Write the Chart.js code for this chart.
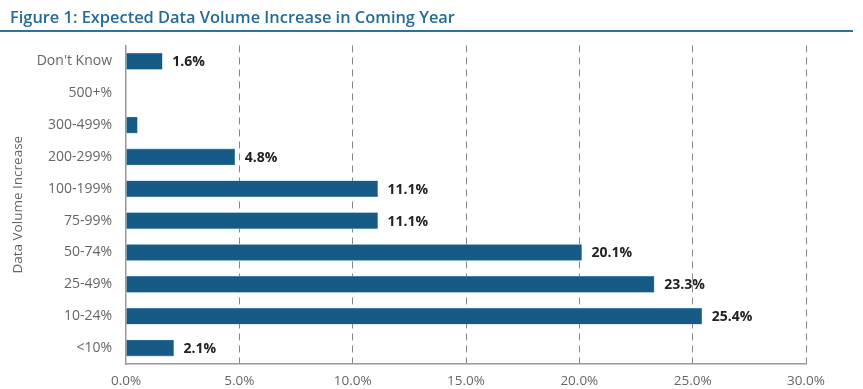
<!DOCTYPE html>
<html>
<head>
<meta charset="utf-8">
<script src="https://cdn.jsdelivr.net/npm/chart.js@4/dist/chart.umd.min.js"></script>
<style>
  html, body { margin: 0; padding: 0; background: #fff; }
  #title {
    position: absolute; left: 0; top: 0; width: 853px; height: 32px;
    border-bottom: 2px solid #2f7199;
    font-family: "Open Sans", sans-serif; font-weight: 600; font-size: 16.4px;
    color: #256c95; line-height: 34px; padding-left: 10px; box-sizing: border-box;
    z-index: 2;
  }
  #wrap { position: absolute; left: 0; top: 23px; width: 863px; height: 366px; }
</style>
</head>
<body>
<div id="title">Figure 1: Expected Data Volume Increase in Coming Year</div>
<div id="wrap"><canvas id="chart"></canvas></div>
<script>
const categories = ["Don't Know", "500+%", "300-499%", "200-299%", "100-199%", "75-99%", "50-74%", "25-49%", "10-24%", "<10%"];
const shares = [1.6, 0, 0.5, 4.8, 11.1, 11.1, 20.1, 23.3, 25.4, 2.1];
const shownLabels = ["1.6%", "", "", "4.8%", "11.1%", "11.1%", "20.1%", "23.3%", "25.4%", "2.1%"];
const xTicks = [0, 5, 10, 15, 20, 25, 30];

const barLabels = {
  id: "barLabels",
  afterDatasetsDraw(chart) {
    const ctx = chart.ctx;
    const meta = chart.getDatasetMeta(0);
    ctx.save();
    ctx.font = "bold 14px 'Open Sans', sans-serif";
    ctx.fillStyle = "#222";
    ctx.textBaseline = "middle";
    meta.data.forEach((bar, i) => {
      if (!shownLabels[i]) return;
      ctx.fillText(shownLabels[i], bar.x + 10, bar.y + 1);
    });
    ctx.restore();
  }
};

new Chart(document.getElementById("chart"), {
  type: "bar",
  data: {
    labels: categories,
    datasets: [{
      data: shares,
      backgroundColor: "#155b86",
      borderColor: "#6f9cbb",
      borderWidth: 0.6,
      barThickness: 16
    }]
  },
  options: {
    indexAxis: "y",
    responsive: true, maintainAspectRatio: false,
    animation: false,
    layout: { padding: { top: 5, right: 57, left: 10, bottom: 0 } },
    plugins: { legend: { display: false }, tooltip: { enabled: false } },
    scales: {
      x: {
        min: 0, max: 30,
        afterBuildTicks: s => { s.ticks = xTicks.map(v => ({ value: v })); },
        afterFit: s => { s.height = 25; },
        ticks: {
          color: "#666", padding: 9,
          font: { family: "Open Sans", size: 13.5 },
          callback: v => v.toFixed(1) + "%"
        },
        grid: {
          drawTicks: false, lineWidth: 1,
          color: c => c.tick && c.tick.value === 0 ? "rgba(0,0,0,0)" : "#888"
        },
        border: { display: true, color: "#999", width: 1.5, dash: [7, 5] }
      },
      y: {
        afterFit: s => { s.width = 116; },
        ticks: {
          color: "#666", padding: 14,
          font: { family: "Open Sans", size: 14 }
        },
        grid: { display: false, drawTicks: false },
        border: { display: true, color: "#999", width: 1.5 },
        title: {
          display: true, text: "Data Volume Increase", color: "#666",
          font: { family: "Open Sans", size: 13.5 }, padding: 0
        }
      }
    }
  },
  plugins: [barLabels]
});
</script>
</body>
</html>
